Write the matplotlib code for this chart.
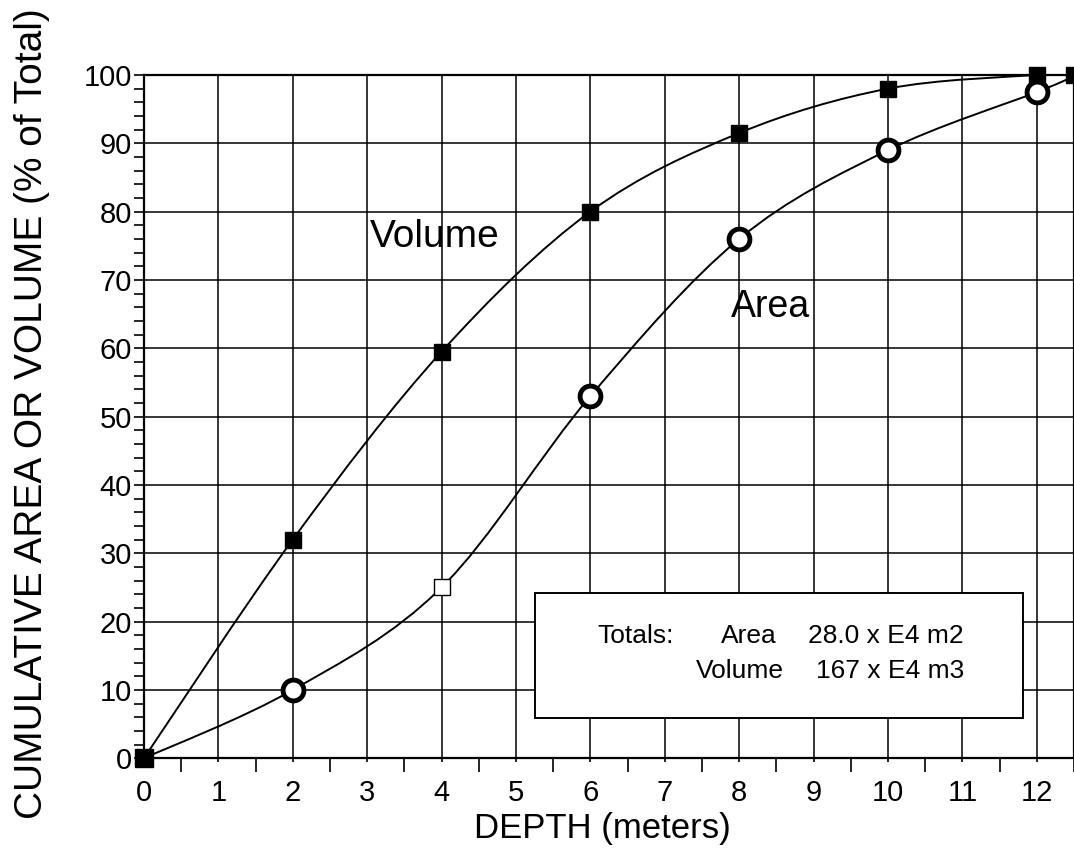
import numpy as np
import matplotlib.pyplot as plt
from matplotlib.path import Path
from matplotlib.patches import PathPatch, Rectangle
from matplotlib.ticker import MultipleLocator

plt.rcParams['font.family'] = ['Liberation Sans', 'DejaVu Sans']

depth = [0, 2, 4, 6, 8, 10, 12, 12.5]
volume = [0, 32, 59.5, 80, 91.5, 98, 100, 100]
area = [0, 10, 25, 53, 76, 89, 97.5, 99.8]


def smooth_path(xs, ys):
    # Catmull-Rom style bezier through the points
    pts = np.column_stack([xs, ys])
    verts = [pts[0]]
    codes = [Path.MOVETO]
    for i in range(len(pts) - 1):
        p0 = pts[i - 1] if i > 0 else pts[i]
        p1, p2 = pts[i], pts[i + 1]
        p3 = pts[i + 2] if i + 2 < len(pts) else pts[i + 1]
        c1 = p1 + (p2 - p0) / 6
        c2 = p2 - (p3 - p1) / 6
        verts += [c1, c2, p2]
        codes += [Path.CURVE4] * 3
    return Path(verts, codes)


fig = plt.figure(figsize=(10.74, 8.52), dpi=100)
ax = fig.add_axes([0.134, 0.110, 0.866, 0.802])

for ys in (volume, area):
    ax.add_patch(PathPatch(smooth_path(depth, ys), fill=False, lw=1.4, color='black', zorder=3))

# markers
ax.plot(depth[1:], volume[1:], 's', color='black', ms=12, zorder=5, clip_on=False)
circ = [i for i in range(1, 7) if i != 2]
ax.plot([depth[i] for i in circ], [area[i] for i in circ], 'o', mfc='white', mec='black',
        mew=3.5, ms=15, zorder=6, clip_on=False)
ax.plot(depth[2], area[2], 's', mfc='white', mec='black', mew=1, ms=12, zorder=6)
ax.plot(depth[0], volume[0], 's', color='black', ms=13, zorder=7, clip_on=False)

ax.set_xlim(0, 12.5)
ax.set_ylim(0, 100)
ax.xaxis.set_major_locator(MultipleLocator(1))
ax.xaxis.set_minor_locator(MultipleLocator(0.5))
ax.yaxis.set_major_locator(MultipleLocator(10))
ax.yaxis.set_minor_locator(MultipleLocator(2))
ax.grid(True, which='major', color='black', lw=1.1)
ax.tick_params(which='both', direction='out', labelsize=21, width=1.2)
ax.tick_params(axis='x', which='major', length=3, pad=12)
ax.tick_params(axis='x', which='minor', length=10)
ax.tick_params(axis='y', which='both', length=7.5, pad=1)
for s in ax.spines.values():
    s.set_linewidth(1.6)

ax.set_xlabel('DEPTH (meters)', fontsize=25)
ax.xaxis.set_label_coords(0.4925, -0.078)
ax.set_ylabel('CUMULATIVE AREA OR VOLUME (% of Total)', fontsize=28)
ax.yaxis.set_label_coords(-0.101, 0.504)

ax.text(3.03, 76.3, 'Volume', fontsize=28, va='center', ha='left', zorder=4)
ax.text(7.89, 66.0, 'Area', fontsize=27, va='center', ha='left', zorder=4)

ax.add_patch(Rectangle((5.26, 5.86), 6.55, 18.34, facecolor='white', edgecolor='black',
                       lw=1.4, zorder=8))
box_fs = 19
ax.text(6.09, 17.86, 'Totals:', fontsize=box_fs, ha='left', va='center', zorder=9)
ax.text(8.51, 17.86, 'Area', fontsize=box_fs, ha='right', va='center', zorder=9)
ax.text(11.02, 17.86, '28.0 x E4 m2', fontsize=box_fs, ha='right', va='center', zorder=9)
ax.text(8.60, 12.74, 'Volume', fontsize=box_fs, ha='right', va='center', zorder=9)
ax.text(11.02, 12.74, '167 x E4 m3', fontsize=box_fs, ha='right', va='center', zorder=9)

fig.savefig('out.png', dpi=100)
